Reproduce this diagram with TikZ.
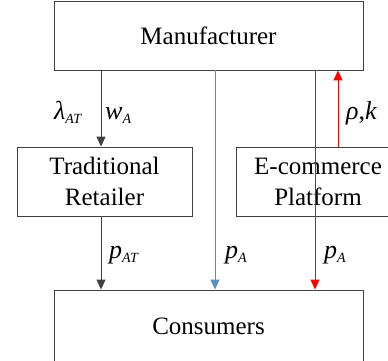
\documentclass[tikz,border=0pt]{standalone}
\usepackage{fontspec}
\setmainfont{LiberationSerif}[Extension=.ttf, UprightFont=*-Regular, ItalicFont=*-Italic, BoldFont=*-Bold, BoldItalicFont=*-BoldItalic]
\usetikzlibrary{arrows.meta}
\definecolor{dgray}{HTML}{404040}
\definecolor{sblue}{HTML}{5B8CC4}
\definecolor{bred}{HTML}{FF0000}
\tikzset{
  box/.style={draw=dgray, line width=0.9pt, inner sep=0pt, align=center,
    font=\rmfamily\fontsize{25}{31}\selectfont},
  conn/.style={line width=1pt, -{Triangle[length=10pt,width=9pt]}},
  lbl/.style={inner sep=0pt, font=\rmfamily\fontsize{26}{30}\selectfont\itshape},
}
\newcommand{\sbs}[1]{\raisebox{-4pt}{\fontsize{14}{16}\selectfont\itshape #1}}
\begin{document}
\begin{tikzpicture}[x=1pt,y=-1pt]
\useasboundingbox (0,0) rectangle (388,361);
\begin{scope}
\clip (0,0) rectangle (388,361);
\node[box, minimum width=309pt, minimum height=69pt] (mfr) at (208.5,35.5) {Manufacturer};
\node[box, minimum width=175pt, minimum height=69pt] (ret) at (104.5,181.5) {Traditional\\Retailer};
\node[box, minimum width=163pt, minimum height=69pt] (ecp) at (318,181.5) {E-commerce\\Platform};
\node[box, minimum width=309pt, minimum height=72pt] (con) at (208.5,326) {Consumers};
\end{scope}
\coordinate (xa) at (101,0);
\coordinate (xb) at (215,0);
\coordinate (xc) at (315,0);
\coordinate (xd) at (338,0);
\draw[conn, dgray] (mfr.south -| xa) -- (ret.north -| xa);
\draw[conn, dgray] (ret.south -| xa) -- (con.north -| xa);
\draw[conn, sblue] (mfr.south -| xb) -- (con.north -| xb);
\draw[conn, bred] (mfr.south -| xc) -- (con.north -| xc);
\draw[conn, bred] (ecp.north -| xd) -- (mfr.south -| xd);
\node[lbl, anchor=base west] (l1) at (54,119) {λ\sbs{AT}};
\node[lbl, anchor=base west] (l2) at (105,119) {w\sbs{A}};
\node[lbl, anchor=base west] (l3) at (346,119) {ρ\upshape,\itshape k};
\node[lbl, anchor=base west] (l4) at (109,258) {p\sbs{AT}};
\node[lbl, anchor=base west] (l5) at (225,258) {p\sbs{A}};
\node[lbl, anchor=base west] (l6) at (324,258) {p\sbs{A}};
\end{tikzpicture}
\end{document}
